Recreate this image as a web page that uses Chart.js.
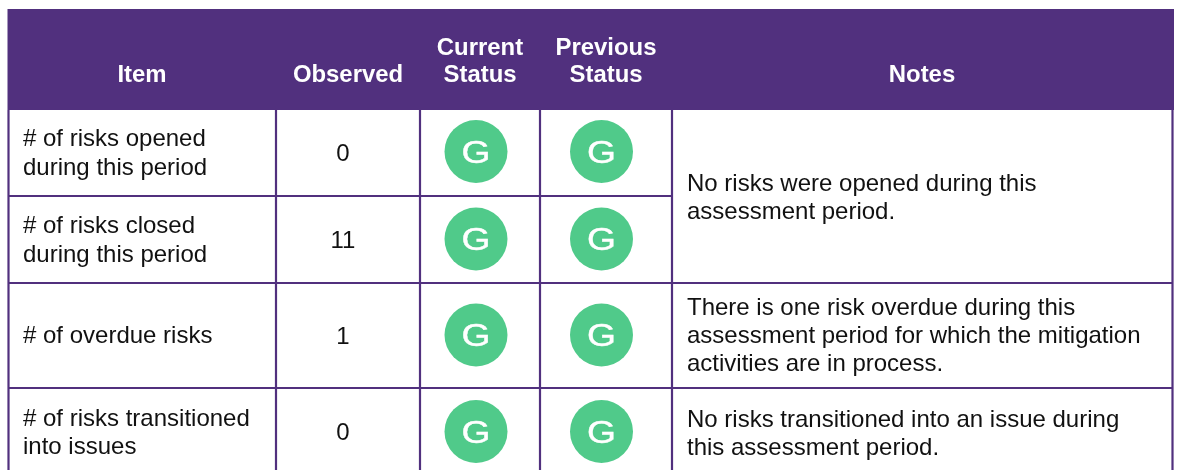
<!DOCTYPE html>
<html>
<head>
<meta charset="utf-8">
<style>html,body{margin:0;padding:0;background:#fff}canvas{display:block}</style>
<script src="https://cdn.jsdelivr.net/npm/chart.js@4/dist/chart.umd.min.js"></script>
</head>
<body>
<canvas id="c" width="1182" height="470" style="width:1182px;height:470px"></canvas>
<script>
// ---- table content ----
const columnTitles = [["Item"], ["Observed"], ["Current", "Status"], ["Previous", "Status"], ["Notes"]];
const items = [
  ["# of risks opened", "during this period"],
  ["# of risks closed", "during this period"],
  ["# of overdue risks"],
  ["# of risks transitioned", "into issues"]
];
const observed = [0, 11, 1, 0];
const currentStatus = ["G", "G", "G", "G"];
const previousStatus = ["G", "G", "G", "G"];
const notes = [
  { rows: [0, 1], lines: ["No risks were opened during this", "assessment period."] },
  { rows: [2, 2], lines: ["There is one risk overdue during this", "assessment period for which the mitigation", "activities are in process."] },
  { rows: [3, 3], lines: ["No risks transitioned into an issue during", "this assessment period."] }
];

// ---- layout (separate from the data) ----
const colEdges = [8.5, 276, 420, 540, 672, 1172.5];
const rowEdges = [9, 110, 196, 283, 388, 480];
const statusCentreX = [476, 601.5];
const rowCentreY = [151.5, 239, 335, 431.5];
const PURPLE = "#51307E", GREEN = "#50CA8A", INK = "#111111";
const BODY = '24px "Liberation Sans", Arial, sans-serif';
const HEAD = 'bold 23.9px "Liberation Sans", Arial, sans-serif';
const LINE = 28;

const statusPoints = (vals, cx) => vals.map((s, i) => ({ x: cx, y: rowCentreY[i], s }));

// table rules as one line dataset with gaps
const rules = [];
const seg = (x0, y0, x1, y1) => rules.push({ x: x0, y: y0 }, { x: x1, y: y1 }, { x: x1, y: null });
colEdges.forEach(x => seg(x, rowEdges[1], x, 470));
seg(colEdges[0], rowEdges[2], colEdges[4], rowEdges[2]);
seg(colEdges[0], rowEdges[3], colEdges[5], rowEdges[3]);
seg(colEdges[0], rowEdges[4], colEdges[5], rowEdges[4]);

const tablePlugin = {
  id: "tableText",
  beforeDatasetsDraw(chart) {
    const { ctx, scales: { x, y } } = chart;
    ctx.save();
    ctx.fillStyle = PURPLE;
    ctx.fillRect(x.getPixelForValue(colEdges[0] - 1), y.getPixelForValue(rowEdges[0]),
      x.getPixelForValue(colEdges[5] + 1.5) - x.getPixelForValue(colEdges[0] - 1),
      y.getPixelForValue(rowEdges[1]) - y.getPixelForValue(rowEdges[0]));
    ctx.restore();
  },
  afterDatasetsDraw(chart) {
    const { ctx, scales: { x, y } } = chart;
    const px = v => x.getPixelForValue(v), py = v => y.getPixelForValue(v);
    ctx.save();
    ctx.textBaseline = "alphabetic";
    // header
    ctx.font = HEAD; ctx.fillStyle = "#ffffff"; ctx.textAlign = "center";
    const headX = [142, 348, 480, 606, 922];
    columnTitles.forEach((t, i) => {
      t.forEach((s, k) => ctx.fillText(s, px(headX[i]), py(82 - (t.length - 1 - k) * 27.5)));
    });
    // first two columns
    ctx.fillStyle = INK; ctx.font = BODY;
    const itemY = [[146, 175], [233, 262], [343], [426, 454]];
    items.forEach((l, i) => {
      ctx.textAlign = "left";
      l.forEach((s, k) => ctx.fillText(s, px(23), py(itemY[i][k])));
      ctx.textAlign = "center";
      ctx.fillText(String(observed[i]), px(343), py([161, 248, 344, 440][i]));
    });
    // notes
    ctx.textAlign = "left";
    const noteY = [191, 315, 427];
    notes.forEach((n, i) => n.lines.forEach((s, k) => ctx.fillText(s, px(687), py(noteY[i] + k * LINE))));
    // status letters
    ctx.fillStyle = "#ffffff"; ctx.strokeStyle = "#ffffff"; ctx.lineWidth = 0.4;
    ctx.font = '31px "Liberation Sans", Arial, sans-serif';
    ctx.textAlign = "center";
    chart.data.datasets.forEach((d, di) => {
      if (!d.isStatus) return;
      d.data.forEach(p => {
        ctx.save();
        ctx.translate(px(p.x), py(p.y) + 11);
        ctx.scale(1.2, 1);
        ctx.fillText(p.s, 0, 0);
        ctx.strokeText(p.s, 0, 0);
        ctx.restore();
      });
    });
    ctx.restore();
  }
};

const statusDataset = (label, vals, cx) => ({
  type: "scatter", label, isStatus: true, data: statusPoints(vals, cx),
  pointRadius: 31.5, pointHoverRadius: 31.5, pointBackgroundColor: GREEN, pointBorderWidth: 0, showLine: false, order: 1
});

new Chart(document.getElementById("c"), {
  type: "scatter",
  data: {
    datasets: [
      { type: "line", label: "rules", data: rules, borderColor: PURPLE, borderWidth: 2.2, pointRadius: 0, spanGaps: false, tension: 0, order: 2 },
      statusDataset("Current Status", currentStatus, statusCentreX[0]),
      statusDataset("Previous Status", previousStatus, statusCentreX[1])
    ]
  },
  options: {
    responsive: false, animation: false, devicePixelRatio: 1,
    layout: { padding: 0, autoPadding: false },
    plugins: { legend: { display: false }, tooltip: { enabled: false } },
    events: [],
    clip: false,
    scales: {
      x: { type: "linear", display: false, min: 0, max: 1182 },
      y: { type: "linear", display: false, min: 0, max: 470, reverse: true }
    }
  },
  plugins: [tablePlugin]
});
</script>
</body>
</html>
